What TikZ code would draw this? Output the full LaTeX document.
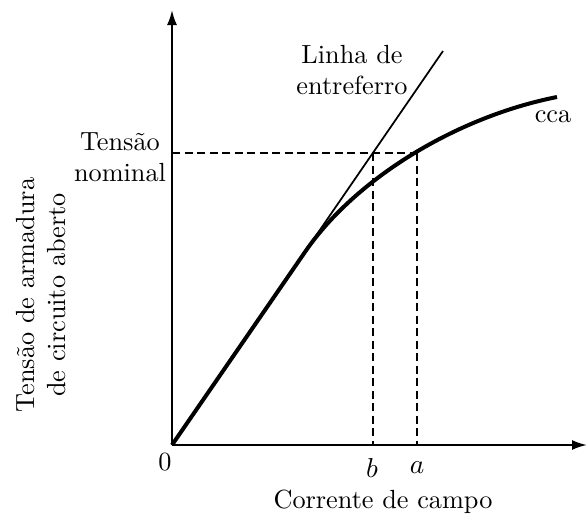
\documentclass[tikz,border=0pt]{standalone}
\usepackage{tikz}
\usetikzlibrary{arrows.meta}
\tikzset{
axis/.style={line width=0.8pt, -{Latex[length=6pt, width=4pt]}}, % eixos com ponta cheia
guide/.style={line width=0.7pt, dash pattern=on 3.2pt off 1.8pt}, % linhas tracejadas
airgap/.style={line width=0.7pt}, % linha de entreferro
occ/.style={line width=1.6pt}, % curva de circuito aberto
every node/.style={font=\fontsize{10.5}{12.5}\selectfont, inner sep=1pt},
}
\begin{document}
\begin{tikzpicture}[x=0.4pt, y=0.4pt]
    \useasboundingbox (0,0) rectangle (588,515);
    % pontos principais
    \coordinate (O) at (172,70);
    \coordinate (ytip) at (172,505);
    \coordinate (xtip) at (587,70);
    \coordinate (gapend) at (443,464);
    \coordinate (knee) at (305,263);
    \coordinate (occend) at (557,418);
    \coordinate (vn) at (172,362);
    \coordinate (pb) at (373,362);
    \coordinate (pa) at (417,362);
    \coordinate (fb) at (373,70);
    \coordinate (fa) at (417,70);
    % textos
    \node[align=center] (linha) at (352,445) {Linha de\\entreferro};
    \node (cca) at (553,398) {cca};
    \node[align=center] (nominal) at (120,358) {Tensão\\nominal};
    \node (zero) at (165,53) {0};
    \node (b) at (372,47) {$b$};
    \node (a) at (417,47) {$a$};
    \node (xlabel) at (383,13) {Corrente de campo};
    \node[rotate=90, align=center] (ylabel) at (41,220) {Tensão de armadura\\de circuito aberto};
    % eixos
    \draw[axis] (O) -- (ytip);
    \draw[axis] (O) -- (xtip);
    % tracejadas
    \draw[guide] (vn) -- (pa);
    \draw[guide] (pb) -- (fb);
    \draw[guide] (pa) -- (fa);
    % curvas
    \draw[airgap] (O) -- (gapend);
    \draw[occ] (O) -- (knee) .. controls (355,336) and (456,398) .. (occend);
\end{tikzpicture}
\end{document}
